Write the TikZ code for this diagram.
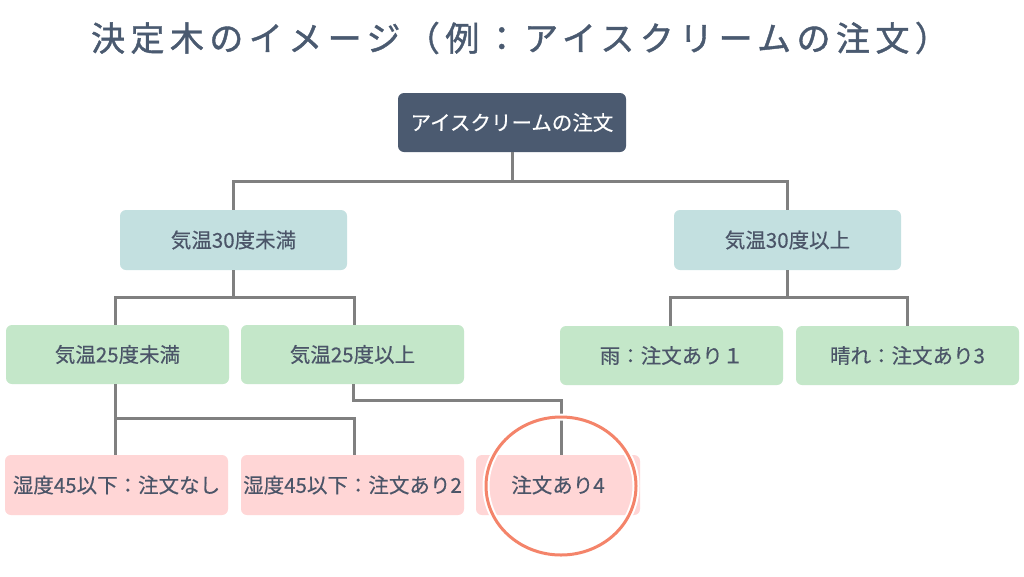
\documentclass[tikz,border=0pt]{standalone}
\usepackage{fontspec}
\setmainfont{Noto Sans CJK JP}
\newfontfamily\titlefont[LetterSpace=16,FakeBold=1.2]{Noto Sans CJK JP}
\newfontfamily\boxfont[FakeBold=0.4]{Noto Sans CJK JP}
\usetikzlibrary{calc,shapes.geometric}
\definecolor{rootfill}{HTML}{4B5A70}
\definecolor{tealfill}{HTML}{C3E0E0}
\definecolor{greenfill}{HTML}{C4E7C9}
\definecolor{pinkfill}{HTML}{FFD6D6}
\definecolor{txt}{HTML}{4B5568}
\definecolor{titlecol}{HTML}{4A5A70}
\definecolor{linecol}{HTML}{808080}
\definecolor{ringcol}{HTML}{F4846A}
\tikzset{
  box/.style={rectangle, rounded corners=6pt, inner sep=0pt, text=txt,
    font=\boxfont\fontsize{20.5}{24}\selectfont, minimum height=59pt},
  rootbox/.style={box, fill=rootfill, text=white, minimum width=228pt},
  tealbox/.style={box, fill=tealfill, minimum width=227pt, minimum height=60pt},
  greenbox/.style={box, fill=greenfill, minimum width=223pt},
  pinkbox/.style={box, fill=pinkfill, minimum width=223pt, minimum height=60pt},
  conn/.style={draw=linecol, line width=3pt},
  ringshape/.style={ellipse, minimum width=150pt, minimum height=138pt, inner sep=0pt},
}
\begin{document}
\begin{tikzpicture}[x=1pt,y=-1pt]
\useasboundingbox[fill=white] (0,0) rectangle (1024,576);
\node[text=titlecol, font=\titlefont\fontsize{34}{40}\selectfont] (title) at (520,38) {決定木のイメージ（例：アイスクリームの注文）};

\node[rootbox] (root) at (512,122.5) {アイスクリームの注文};
\node[tealbox] (l1a) at (233.5,240) {気温30度未満};
\node[tealbox] (l1b) at (787.5,240) {気温30度以上};
\node[greenbox] (l2a) at (117.5,354.5) {気温25度未満};
\node[greenbox] (l2b) at (352.5,354.5) {気温25度以上};
\node[greenbox] (l2c) at (671.5,355.5) {雨：注文あり１};
\node[greenbox] (l2d) at (907.5,355.5) {晴れ：注文あり3};
\node[pinkbox] (l3a) at (116.5,485) {湿度45以下：注文なし};
\node[pinkbox] (l3b) at (352.5,485) {湿度45以下：注文あり2};
\node[pinkbox, minimum width=164pt] (l3c) at (558,485) {注文あり4};

\coordinate (j0) at (512,181);
\coordinate (j1) at (233.5,297);
\coordinate (j2) at (787.5,297);
\coordinate (j3) at (115,418);
\coordinate (j4) at (353,400);

\draw[conn] (root.south) -- (j0);
\draw[conn] (l1a.north) |- (j0) -| (l1b.north);
\draw[conn] (l1a.south) -- (j1);
\draw[conn] ([xshift=-2.5pt]l2a.north) |- (j1) -| ([xshift=1.5pt]l2b.north);
\draw[conn] (l1b.south) -- (j2);
\draw[conn] ([xshift=-1.5pt]l2c.north) |- (j2) -| (l2d.north);
\draw[conn] ([xshift=-2.5pt]l2a.south) -- (j3);
\draw[conn] ([xshift=-1.5pt]l3a.north) |- (j3) -| ([xshift=1.5pt]l3b.north);
\draw[conn] ([xshift=0.5pt]l2b.south) |- (j4) -| ([xshift=3pt]l3c.north);

\node[ringshape, draw=white, line width=7pt] (ringbg) at (561,486) {};
\node[ringshape, draw=ringcol, line width=3pt] (ring) at (561,486) {};
\end{tikzpicture}
\end{document}
